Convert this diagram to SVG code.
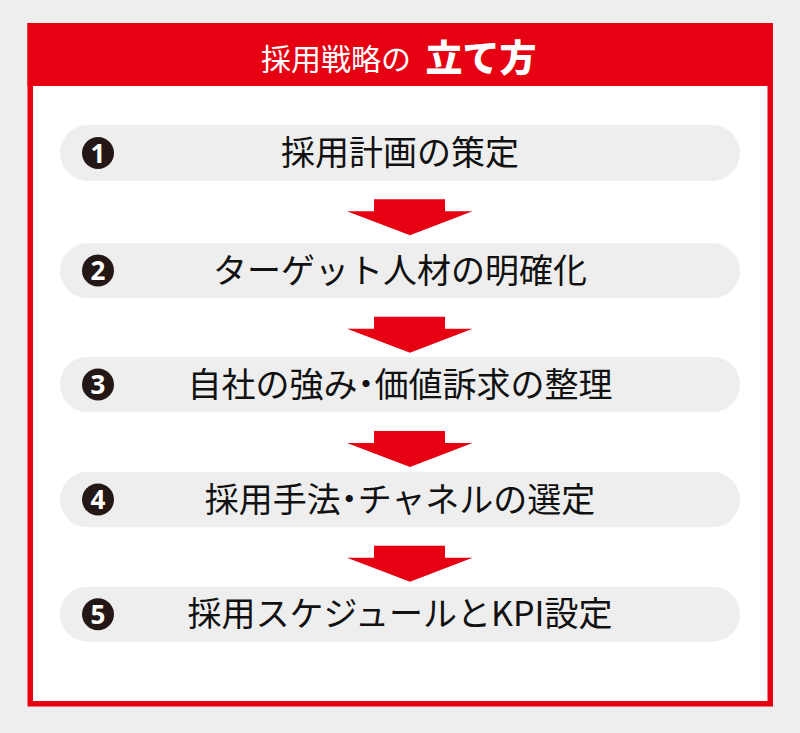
<svg xmlns="http://www.w3.org/2000/svg" width="800" height="733" viewBox="0 0 800 733">
<style>
.pill{fill:#eeeeee}
.badge{fill:#231815}
.num{fill:#ffffff;font-family:"Noto Sans","DejaVu Sans",sans-serif;font-weight:700;font-size:26px;text-anchor:middle}
.lbl{fill:#111111;font-family:"Noto Sans CJK JP","Noto Sans",sans-serif;font-weight:400;font-size:34px;text-anchor:middle}
.dot{font-feature-settings:"palt" 1}
.arrow{fill:#e60012}
.title{fill:#ffffff;font-family:"Noto Sans CJK JP",sans-serif}
</style>
<defs>
<polygon id="arr" points="374,0 445,0 445,12 472.5,12 410,36 347,12 374,12"/>
</defs>
<rect x="0" y="0" width="800" height="733" fill="#eeeeee"/>
<rect x="30.25" y="25.75" width="740" height="678" fill="#ffffff" stroke="#e60012" stroke-width="5.5"/>
<rect x="27.5" y="23" width="745.5" height="63" fill="#e60012"/>
<g id="title">
<text class="title" y="70" x="336" text-anchor="middle" font-size="30" font-weight="400">採用戦略の</text>
<text class="title" y="72" x="481" text-anchor="middle" font-size="37" font-weight="900">立て方</text>
</g>
<g id="connectors">
<use href="#arr" class="arrow" y="199.3"/>
<use href="#arr" class="arrow" y="316.7"/>
<use href="#arr" class="arrow" y="431"/>
<use href="#arr" class="arrow" y="545.7"/>
</g>
<g id="step1">
<rect class="pill" x="60" y="125" width="680" height="56" rx="28"/>
<circle class="badge" cx="98" cy="153" r="16"/>
<text class="num" x="98" y="162.5">1</text>
<text class="lbl" x="400" y="165">採用計画の策定</text>
</g>
<g id="step2">
<rect class="pill" x="60" y="243.3" width="680" height="55" rx="27.5"/>
<circle class="badge" cx="98" cy="270.5" r="16"/>
<text class="num" x="98" y="280">2</text>
<text class="lbl" x="400" y="282.5">ターゲット人材の明確化</text>
</g>
<g id="step3">
<rect class="pill" x="60" y="356.7" width="680" height="55.6" rx="27.8"/>
<circle class="badge" cx="98" cy="384.5" r="16"/>
<text class="num" x="98" y="394">3</text>
<text class="lbl" x="400" y="396.5">自社の強み<tspan class="dot">・</tspan>価値訴求の整理</text>
</g>
<g id="step4">
<rect class="pill" x="60" y="471.7" width="680" height="55.6" rx="27.8"/>
<circle class="badge" cx="98" cy="499.5" r="16"/>
<text class="num" x="98" y="509">4</text>
<text class="lbl" x="400" y="511.5">採用手法<tspan class="dot">・</tspan>チャネルの選定</text>
</g>
<g id="step5">
<rect class="pill" x="60" y="586.7" width="680" height="55" rx="27.5"/>
<circle class="badge" cx="98" cy="614.2" r="16"/>
<text class="num" x="98" y="623.7">5</text>
<text class="lbl" x="400" y="626.2">採用スケジュールとKPI設定</text>
</g>
</svg>
